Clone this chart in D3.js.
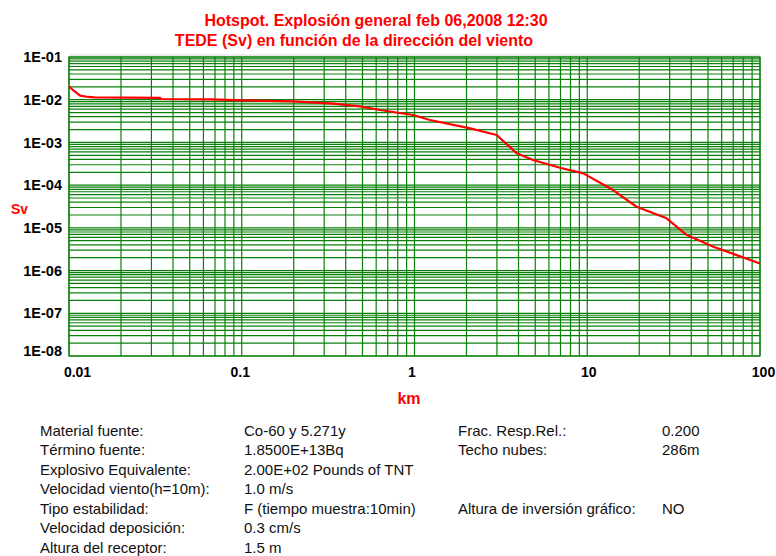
<!DOCTYPE html>
<html><head><meta charset="utf-8">
<script src="https://cdn.jsdelivr.net/npm/d3@7"></script>
<style>
html,body{margin:0;padding:0;background:#fff;}
svg{display:block;font-family:"Liberation Sans",Arial,sans-serif;}
</style></head>
<body><svg id="c" width="776" height="556"></svg>
<script>
// ---- data ----
const titleLines = ["Hotspot. Explosión general feb 06,2008 12:30", "TEDE (Sv) en función de la dirección del viento"];
const xTickValues = [0.01, 0.1, 1, 10, 100];
const xTickLabels = ["0.01", "0.1", "1", "10", "100"];
const yTickValues = [1e-1, 1e-2, 1e-3, 1e-4, 1e-5, 1e-6, 1e-7, 1e-8];
const yTickLabels = ["1E-01", "1E-02", "1E-03", "1E-04", "1E-05", "1E-06", "1E-07", "1E-08"];
const xTitle = "km";
const yTitle = "Sv";
const distanceKm = [0.01, 0.0107, 0.0116, 0.0129, 0.0141, 0.0337, 0.0341, 0.0673, 0.1, 0.198, 0.338, 0.483, 0.631, 0.98, 1.23, 2.1, 2.99, 3.91, 4.85, 6.95, 9.49, 14.1, 19.3, 28.8, 37.7, 53.7, 73.3, 100];
const tedeSv = [2.04e-2, 1.6e-2, 1.25e-2, 1.16e-2, 1.14e-2, 1.11e-2, 1.04e-2, 1.02e-2, 9.7e-3, 9.1e-3, 8.1e-3, 7.0e-3, 5.74e-3, 4.38e-3, 3.35e-3, 2.14e-3, 1.49e-3, 5.56e-4, 3.87e-4, 2.55e-4, 1.89e-4, 7.67e-5, 3.12e-5, 1.67e-5, 6.78e-6, 3.6e-6, 2.3e-6, 1.47e-6];
const infoLabelsLeft = ["Material fuente:", "Término fuente:", "Explosivo Equivalente:", "Velocidad viento(h=10m):", "Tipo estabilidad:", "Velocidad deposición:", "Altura del receptor:"];
const infoValuesLeft = ["Co-60 y 5.271y", "1.8500E+13Bq", "2.00E+02 Pounds of TNT", "1.0 m/s", "F (tiempo muestra:10min)", "0.3 cm/s", "1.5 m"];
const infoLabelsRight = ["Frac. Resp.Rel.:", "Techo nubes:", "", "", "Altura de inversión gráfico:", "", ""];
const infoValuesRight = ["0.200", "286m", "", "", "NO", "", ""];

// ---- layout ----
const L = 69, R = 760, T = 57, B = 356;
const svg = d3.select("#c");
const x = d3.scaleLog().domain([0.01, 100]).range([L, R]);
const y = d3.scaleLog().domain([1e-8, 1e-1]).range([B, T]);
const red = "#ff0000", grid = "#0a800a";

// titles
svg.selectAll("text.title").data(titleLines).join("text")
  .attr("class", "title")
  .attr("x", (d, i) => i === 0 ? 376 : 354)
  .attr("y", (d, i) => 20 + i * 20)
  .attr("dominant-baseline", "central")
  .attr("text-anchor", "middle")
  .attr("fill", red).attr("font-weight", "bold").attr("font-size", 16)
  .text(d => d);

// shadow line above plot
svg.append("line").attr("x1", L).attr("x2", R).attr("y1", T - 2).attr("y2", T - 2)
  .attr("stroke", "#d8d8d8").attr("stroke-width", 1);

// grid
const gGrid = svg.append("g");
gGrid.selectAll("line.v").data(x.ticks()).join("line").attr("class", "v")
  .attr("x1", d => x(d)).attr("x2", d => x(d)).attr("y1", T).attr("y2", B)
  .attr("stroke", grid).attr("stroke-width", 1.2);
gGrid.selectAll("line.h").data(y.ticks()).join("line").attr("class", "h")
  .attr("x1", L).attr("x2", R).attr("y1", d => y(d)).attr("y2", d => y(d))
  .attr("stroke", grid).attr("stroke-width", 1.2);
svg.append("rect").attr("x", L).attr("y", T).attr("width", R - L).attr("height", B - T)
  .attr("fill", "none").attr("stroke", grid).attr("stroke-width", 1.2);

// curve
svg.append("path")
  .datum(distanceKm.map((d, i) => [d, tedeSv[i]]))
  .attr("d", d3.line().x(d => x(d[0])).y(d => y(d[1])))
  .attr("fill", "none").attr("stroke", red).attr("stroke-width", 2.2)
  .attr("stroke-linejoin", "round");

// axes
const yAxis = svg.append("g").attr("transform", `translate(${L},0)`)
  .call(d3.axisLeft(y).tickValues(yTickValues).tickFormat((d, i) => yTickLabels[i]).tickSize(0).tickPadding(7));
yAxis.select(".domain").remove();
yAxis.selectAll("text").attr("font-size", 14.5).attr("font-weight", "bold").attr("fill", "#000")
  .attr("font-family", "Liberation Sans, Arial, sans-serif")
  .attr("dy", (d, i) => i === yTickValues.length - 1 ? "-0.05em" : "0.32em");

const xAxis = svg.append("g").attr("transform", `translate(0,${B})`)
  .call(d3.axisBottom(x).tickValues(xTickValues).tickFormat((d, i) => xTickLabels[i]).tickSize(0).tickPadding(11));
xAxis.select(".domain").remove();
const xShift = [8, -2, -3, 1, 3];
xAxis.selectAll("text").attr("font-size", 14).attr("font-weight", "bold").attr("fill", "#000")
  .attr("font-family", "Liberation Sans, Arial, sans-serif")
  .attr("dx", (d, i) => xShift[i]);

// axis titles
svg.append("text").attr("x", 409).attr("y", 398).attr("text-anchor", "middle").attr("dominant-baseline", "central")
  .attr("fill", red).attr("font-weight", "bold").attr("font-size", 16).text(xTitle);
svg.append("text").attr("x", 11).attr("y", 209).attr("dominant-baseline", "central")
  .attr("fill", red).attr("font-weight", "bold").attr("font-size", 14).text(yTitle);

// info table
const rowY = i => 430 + i * 19.5;
const info = svg.append("g").attr("font-size", 15).attr("fill", "#111");
function col(arr, xx) {
  info.append("g").selectAll("text").data(arr).join("text")
    .attr("x", xx).attr("y", (d, i) => rowY(i)).attr("dominant-baseline", "central").text(d => d);
}
col(infoLabelsLeft, 40);
col(infoValuesLeft, 244);
col(infoLabelsRight, 458);
col(infoValuesRight, 662);
</script></body></html>
